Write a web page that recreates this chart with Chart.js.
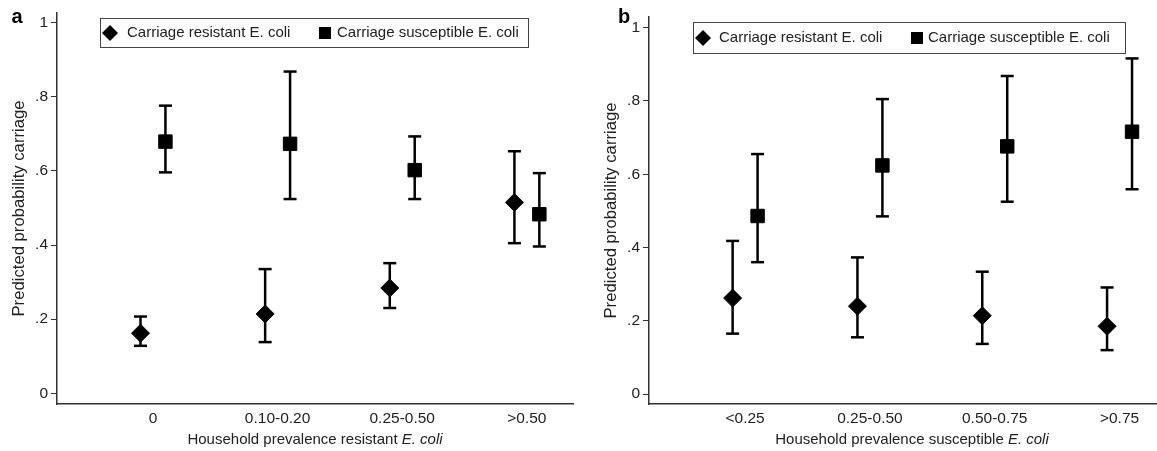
<!DOCTYPE html>
<html>
<head>
<meta charset="utf-8">
<script src="https://cdn.jsdelivr.net/npm/chart.js@4.4.0/dist/chart.umd.min.js"></script>
<style>
  body { margin: 0; background: #fff; }
  #wrap { position: relative; width: 1157px; height: 451px; }
  canvas { position: absolute; top: 0; }
  #chartA { left: 0; }
  #chartB { left: 577px; }
</style>
</head>
<body>
<div id="wrap">
  <canvas id="chartA" width="577" height="451"></canvas>
  <canvas id="chartB" width="580" height="451"></canvas>
</div>
<script>
const FONT = '"Liberation Sans", Arial, sans-serif';

// panel a: household prevalence resistant E. coli
const catsA = ['0', '0.10-0.20', '0.25-0.50', '>0.50'];
const resA = [0.162, 0.214, 0.284, 0.515];
const resALo = [0.128, 0.138, 0.230, 0.405];
const resAHi = [0.207, 0.335, 0.351, 0.653];
const susA = [0.679, 0.673, 0.602, 0.483];
const susALo = [0.596, 0.524, 0.524, 0.396];
const susAHi = [0.776, 0.868, 0.693, 0.594];

// panel b: household prevalence susceptible E. coli
const catsB = ['<0.25', '0.25-0.50', '0.50-0.75', '>0.75'];
const resB = [0.262, 0.240, 0.214, 0.185];
const resBLo = [0.165, 0.155, 0.137, 0.120];
const resBHi = [0.418, 0.373, 0.334, 0.291];
const susB = [0.486, 0.624, 0.676, 0.716];
const susBLo = [0.360, 0.485, 0.525, 0.559];
const susBHi = [0.655, 0.805, 0.868, 0.916];

const yTicks = [0, 0.2, 0.4, 0.6, 0.8, 1];
const legendLabels = ['Carriage resistant E. coli', 'Carriage susceptible E. coli'];

const SHIFT = 0.1; // side-by-side offset of the two series within a category

function points(vals, off) {
  return vals.map((v, i) => ({ x: i + off, y: v }));
}

function whiskers(lo, hi, off) {
  let out = [];
  lo.forEach((v, i) => {
    out.push({ x: i + off, y: v }, { x: i + off, y: hi[i] }, { x: i + off, y: null });
  });
  return out;
}

const decoPlugin = {
  id: 'deco',
  afterDraw(chart, args, opts) {
    const ctx = chart.ctx;
    ctx.save();
    ctx.fillStyle = '#000';
    ctx.font = 'bold 20px ' + FONT;
    ctx.textAlign = 'center';
    ctx.textBaseline = 'middle';
    ctx.fillText(opts.letter, opts.letterX, opts.letterY);

    // legend box
    const b = opts.box;
    ctx.strokeStyle = '#444';
    ctx.lineWidth = 1;
    ctx.strokeRect(b.x + 0.5, b.y + 0.5, b.w, b.h);
    const cy = b.y + b.h / 2 + 0.5;
    ctx.beginPath();
    ctx.moveTo(b.d, cy - 8);
    ctx.lineTo(b.d + 8, cy);
    ctx.lineTo(b.d, cy + 8);
    ctx.lineTo(b.d - 8, cy);
    ctx.closePath();
    ctx.fill();
    ctx.fillRect(b.s - 6, cy - 6, 12, 12);
    ctx.fillStyle = '#222';
    ctx.font = '15px ' + FONT;
    ctx.textAlign = 'left';
    ctx.fillText(legendLabels[0], b.t1, cy);
    ctx.fillText(legendLabels[1], b.t2, cy);

    // x title with italic species name
    const w1 = ctx.measureText(opts.xTitle).width;
    ctx.font = 'italic 15px ' + FONT;
    const w2 = ctx.measureText('E. coli').width;
    const x0 = opts.xTitleX - (w1 + w2) / 2;
    ctx.font = '15px ' + FONT;
    ctx.fillText(opts.xTitle, x0, opts.xTitleY);
    ctx.font = 'italic 15px ' + FONT;
    ctx.fillText('E. coli', x0 + w1, opts.xTitleY);
    ctx.restore();
  }
};

function makePanel(id, p) {
  const ctx = document.getElementById(id);
  new Chart(ctx, {
    type: 'scatter',
    data: {
      datasets: [
        {
          data: points(p.res, -SHIFT),
          pointStyle: 'rectRot',
          pointRadius: 9,
          backgroundColor: '#000',
          borderColor: '#000',
          borderWidth: 1,
          order: 0,
        },
        {
          data: points(p.sus, SHIFT),
          pointStyle: 'rect',
          pointRadius: 9.5,
          backgroundColor: '#000',
          borderColor: '#000',
          borderWidth: 1,
          order: 0,
        },
        {
          data: whiskers(p.resLo, p.resHi, -SHIFT),
          showLine: true,
          spanGaps: false,
          borderColor: '#000',
          borderWidth: 2.5,
          pointStyle: 'line',
          pointRadius: 6.5,
          pointBorderWidth: 2.5,
          pointBorderColor: '#000',
          order: 1,
        },
        {
          data: whiskers(p.susLo, p.susHi, SHIFT),
          showLine: true,
          spanGaps: false,
          borderColor: '#000',
          borderWidth: 2.5,
          pointStyle: 'line',
          pointRadius: 6.5,
          pointBorderWidth: 2.5,
          pointBorderColor: '#000',
          order: 1,
        },
      ],
    },
    options: {
      responsive: false,
      animation: false,
      layout: { autoPadding: false, padding: { top: p.top, right: p.right, left: 0, bottom: 0 } },
      scales: {
        x: {
          type: 'linear',
          min: -0.77,
          max: p.xmax,
          afterBuildTicks: (s) => { s.ticks = p.cats.map((c, i) => ({ value: i })); },
          afterFit: (s) => { s.height = 47; },
          ticks: {
            callback: (v) => p.cats[v],
            autoSkip: false,
            maxRotation: 0,
            padding: 5,
            color: '#222',
            font: { family: FONT, size: 15.5 },
          },
          grid: { display: false, drawTicks: false },
          border: { display: true, color: '#333', width: 1.5 },
        },
        y: {
          min: p.ymin,
          max: p.ymax,
          afterBuildTicks: (s) => { s.ticks = yTicks.map((v) => ({ value: v })); },
          afterFit: (s) => { s.width = p.yw; },
          ticks: {
            callback: (v) => (v === 0 || v === 1 ? String(v) : String(v).replace('0.', '.')),
            padding: 3,
            color: '#222',
            font: { family: FONT, size: 15.5 },
          },
          grid: { display: true, drawOnChartArea: false, drawTicks: true, tickLength: 6, color: '#333', lineWidth: 1 },
          border: { display: true, color: '#333', width: 1.5 },
          title: {
            display: true,
            text: 'Predicted probability carriage',
            color: '#222',
            font: { family: FONT, size: 16.7 },
            padding: { top: p.titlePad, bottom: 0 },
          },
        },
      },
      plugins: {
        legend: { display: false },
        tooltip: { enabled: false },
        deco: p.deco,
      },
    },
    plugins: [decoPlugin],
  });
}

makePanel('chartA', {
  cats: catsA, res: resA, resLo: resALo, resHi: resAHi, sus: susA, susLo: susALo, susHi: susAHi,
  top: 13, right: 4, xmax: 3.37, ymin: -0.029, ymax: 1.026, yw: 57, titlePad: 9,
  deco: {
    letter: 'a', letterX: 17, letterY: 17,
    box: { x: 100, y: 18, w: 428, h: 29, d: 110, t1: 127, s: 325, t2: 337 },
    xTitle: 'Household prevalence resistant ', xTitleX: 315, xTitleY: 440,
  },
});

makePanel('chartB', {
  cats: catsB, res: resB, resLo: resBLo, resHi: resBHi, sus: susB, susLo: susBLo, susHi: susBHi,
  top: 17, right: 0, xmax: 3.3, ymin: -0.027, ymax: 1.029, yw: 72, titlePad: 24,
  deco: {
    letter: 'b', letterX: 47, letterY: 17,
    box: { x: 116, y: 22, w: 432, h: 31, d: 126, t1: 142, s: 340, t2: 351 },
    xTitle: 'Household prevalence susceptible ', xTitleX: 335, xTitleY: 440,
  },
});
</script>
</body>
</html>
